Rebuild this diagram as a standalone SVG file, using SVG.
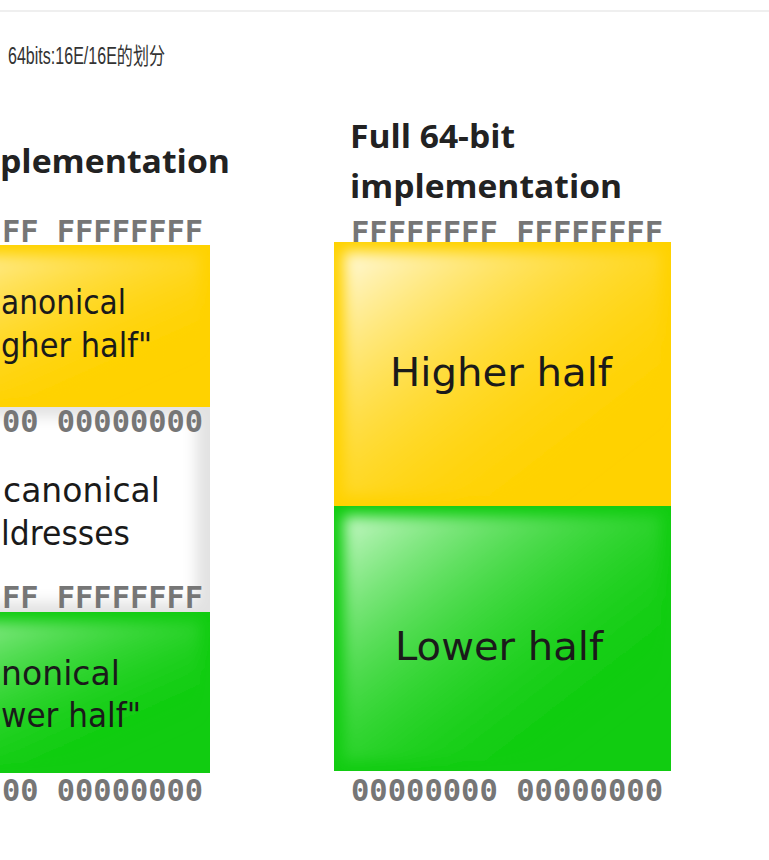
<svg xmlns="http://www.w3.org/2000/svg" width="769" height="860" viewBox="0 0 769 860">
<style>
.title{font-family:"Liberation Sans","Noto Sans CJK SC",sans-serif;font-size:23px;fill:#333}
.head{font-family:"Open Sans","Liberation Sans",sans-serif;font-weight:bold;font-size:33px;fill:#222}
.hex{font-family:"DejaVu Sans Mono","Liberation Mono",monospace;font-weight:bold;font-size:30px;fill:#767676}
.lbl{font-family:"DejaVu Sans","Liberation Sans",sans-serif;font-size:33px;fill:#1a1a1a}
.big{font-family:"DejaVu Sans","Liberation Sans",sans-serif;font-size:39px;fill:#1a1a1a;text-anchor:middle}
</style>
<defs>
<filter id="soft" x="-20%" y="-20%" width="140%" height="140%"><feGaussianBlur stdDeviation="7"/></filter>
<linearGradient id="hiY" x1="0" y1="0" x2="1" y2="1">
<stop offset="0" stop-color="#fffbe6" stop-opacity="0.95"/>
<stop offset="0.85" stop-color="#ffd000" stop-opacity="0"/>
</linearGradient>
<linearGradient id="hiG" x1="0" y1="0" x2="1" y2="1">
<stop offset="0" stop-color="#e6ffe6" stop-opacity="0.85"/>
<stop offset="0.85" stop-color="#00cc00" stop-opacity="0"/>
</linearGradient>
<clipPath id="cRY"><rect x="334" y="242" width="337" height="264"/></clipPath>
<clipPath id="cRG"><rect x="334" y="506" width="337" height="265"/></clipPath>
<clipPath id="cLY"><rect x="-127" y="245" width="337" height="162"/></clipPath>
<clipPath id="cLW"><rect x="-127" y="407" width="337" height="205"/></clipPath>
<clipPath id="cLG"><rect x="-127" y="612" width="337" height="161"/></clipPath>
</defs>
<rect x="0" y="0" width="769" height="860" fill="#ffffff"/>
<rect x="0" y="10" width="769" height="2" fill="#efefef"/>
<text class="title" x="8" y="64" textLength="157" lengthAdjust="spacingAndGlyphs">64bits:16E/16E的划分</text>

<g id="left-panel">
<text class="head" x="0" y="173" textLength="230" lengthAdjust="spacingAndGlyphs">plementation</text>
<text class="hex" x="2" y="242" textLength="201" lengthAdjust="spacingAndGlyphs">FF FFFFFFFF</text>
<g id="left-higher" clip-path="url(#cLY)">
<rect x="-127" y="245" width="337" height="162" fill="#ffd200"/>
<rect x="-117" y="255" width="317" height="142" fill="url(#hiY)" filter="url(#soft)"/>
</g>
<text class="lbl" x="1" y="314" textLength="125" lengthAdjust="spacingAndGlyphs">anonical</text>
<text class="lbl" x="1" y="357" textLength="151" lengthAdjust="spacingAndGlyphs">gher half"</text>
<g id="left-noncanonical" clip-path="url(#cLW)">
<rect x="-127" y="407" width="337" height="205" fill="#e2e2e2"/>
<rect x="-117" y="417" width="313" height="185" fill="#ffffff" filter="url(#soft)"/>
</g>
<text class="hex" x="2" y="432" textLength="201" lengthAdjust="spacingAndGlyphs">00 00000000</text>
<text class="lbl" x="3" y="502" textLength="157" lengthAdjust="spacingAndGlyphs">canonical</text>
<text class="lbl" x="1" y="545" textLength="129" lengthAdjust="spacingAndGlyphs">ldresses</text>
<text class="hex" x="2" y="608" textLength="201" lengthAdjust="spacingAndGlyphs">FF FFFFFFFF</text>
<g id="left-lower" clip-path="url(#cLG)">
<rect x="-127" y="612" width="337" height="161" fill="#11cc11"/>
<rect x="-117" y="622" width="317" height="141" fill="url(#hiG)" filter="url(#soft)"/>
</g>
<text class="lbl" x="1" y="685" textLength="119" lengthAdjust="spacingAndGlyphs">nonical</text>
<text class="lbl" x="1" y="727" textLength="140" lengthAdjust="spacingAndGlyphs">wer half"</text>
<text class="hex" x="2" y="801" textLength="201" lengthAdjust="spacingAndGlyphs">00 00000000</text>
</g>

<g id="right-panel">
<text class="head" x="350" y="148" textLength="165" lengthAdjust="spacingAndGlyphs">Full 64-bit</text>
<text class="head" x="350" y="198" textLength="272" lengthAdjust="spacingAndGlyphs">implementation</text>
<text class="hex" x="351" y="243" textLength="312" lengthAdjust="spacingAndGlyphs">FFFFFFFF FFFFFFFF</text>
<g id="right-higher" clip-path="url(#cRY)">
<rect x="334" y="242" width="337" height="264" fill="#ffd200"/>
<rect x="344" y="252" width="317" height="244" fill="url(#hiY)" filter="url(#soft)"/>
</g>
<text class="big" x="501" y="386" textLength="222" lengthAdjust="spacingAndGlyphs">Higher half</text>
<g id="right-lower" clip-path="url(#cRG)">
<rect x="334" y="506" width="337" height="265" fill="#11cc11"/>
<rect x="344" y="516" width="317" height="245" fill="url(#hiG)" filter="url(#soft)"/>
</g>
<text class="big" x="499" y="660" textLength="208" lengthAdjust="spacingAndGlyphs">Lower half</text>
<text class="hex" x="351" y="801" textLength="312" lengthAdjust="spacingAndGlyphs">00000000 00000000</text>
</g>
</svg>
